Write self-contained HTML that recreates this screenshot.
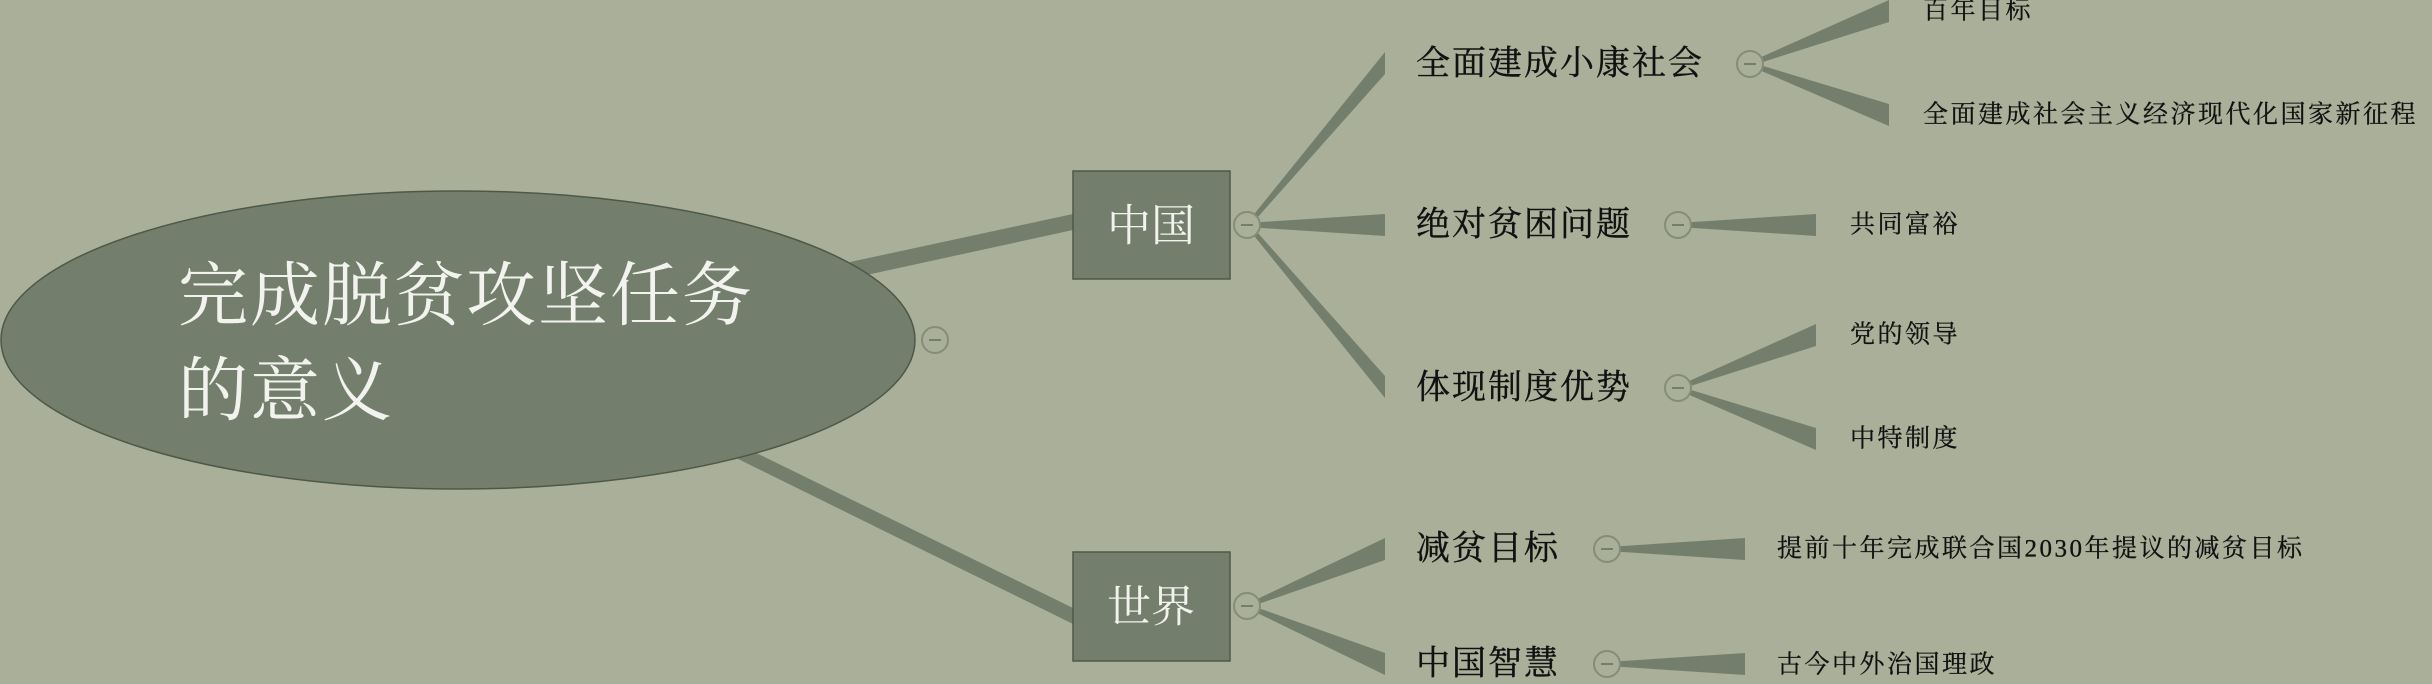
<!DOCTYPE html>
<html><head><meta charset="utf-8"><style>
html,body{margin:0;padding:0;background:#a9af99;}
svg{display:block}
text{font-family:"Liberation Serif","Noto Serif CJK SC",serif;}
</style></head><body>
<svg width="2432" height="684" viewBox="0 0 2432 684" xmlns="http://www.w3.org/2000/svg">
<rect width="2432" height="684" fill="#a9af99"/>
<g fill="#737f6c">
<polygon points="850,262 1073,214 1073,230 862,276"/>
<polygon points="730,455 740,445 1073,608 1073,624"/>
<polygon points="1247,223 1385,52 1385,74 1249,227"/>
<polygon points="1247,223 1385,214 1385,236 1247,227"/>
<polygon points="1249,223 1385,376 1385,398 1247,227"/>
<polygon points="1247,604 1385,538 1385,560 1247,608"/>
<polygon points="1247,604 1385,653 1385,675 1247,608"/>
<polygon points="1750,62 1889,0 1889,22 1750,66"/>
<polygon points="1750,62 1889,104 1889,126 1750,66"/>
<polygon points="1678,223 1816,214 1816,236 1678,227"/>
<polygon points="1678,386 1816,324 1816,346 1678,390"/>
<polygon points="1678,386 1816,428 1816,450 1678,390"/>
<polygon points="1607,547 1745,538 1745,560 1607,551"/>
<polygon points="1607,662 1745,653 1745,675 1607,666"/>
</g>
<ellipse cx="458" cy="340" rx="457" ry="149" fill="#737f6c" stroke="#4e5849" stroke-width="1.5"/>
<text x="178" y="297" font-size="70" fill="#f2f2ee" dominant-baseline="central" letter-spacing="2">完成脱贫攻坚任务</text>
<text x="178" y="392" font-size="70" fill="#f2f2ee" dominant-baseline="central" letter-spacing="2">的意义</text>
<rect x="1073" y="171" width="157" height="108" fill="#737f6c" stroke="#4e5849" stroke-width="1.5"/>
<text x="1151" y="226" font-size="44" fill="#f2f2ee" text-anchor="middle" dominant-baseline="central">中国</text>
<rect x="1073" y="552" width="157" height="109" fill="#737f6c" stroke="#4e5849" stroke-width="1.5"/>
<text x="1151" y="607" font-size="44" fill="#f2f2ee" text-anchor="middle" dominant-baseline="central">世界</text>
<g fill="#a9af99" stroke="#858d78" stroke-width="2">
<circle cx="935" cy="340" r="13"/>
<circle cx="1247" cy="225" r="13"/>
<circle cx="1247" cy="606" r="13"/>
<circle cx="1750" cy="64" r="13"/>
<circle cx="1678" cy="225" r="13"/>
<circle cx="1678" cy="388" r="13"/>
<circle cx="1607" cy="549" r="13"/>
<circle cx="1607" cy="664" r="13"/>
</g>
<g stroke="#737f6c" stroke-width="2">
<line x1="929" y1="340" x2="941" y2="340"/>
<line x1="1241" y1="225" x2="1253" y2="225"/>
<line x1="1241" y1="606" x2="1253" y2="606"/>
<line x1="1744" y1="64" x2="1756" y2="64"/>
<line x1="1672" y1="225" x2="1684" y2="225"/>
<line x1="1672" y1="388" x2="1684" y2="388"/>
<line x1="1601" y1="549" x2="1613" y2="549"/>
<line x1="1601" y1="664" x2="1613" y2="664"/>
</g>
<g font-size="34" fill="#111" dominant-baseline="central" letter-spacing="2" stroke="#111" stroke-width="0.4">
<text x="1416" y="64">全面建成小康社会</text>
<text x="1416" y="225">绝对贫困问题</text>
<text x="1416" y="388">体现制度优势</text>
<text x="1416" y="549">减贫目标</text>
<text x="1416" y="664">中国智慧</text>
</g>
<g font-size="25" fill="#111" dominant-baseline="central" letter-spacing="2.5" stroke="#111" stroke-width="0.3">
<text x="1923" y="11">百年目标</text>
<text x="1923" y="115">全面建成社会主义经济现代化国家新征程</text>
<text x="1850" y="225">共同富裕</text>
<text x="1850" y="335">党的领导</text>
<text x="1850" y="439">中特制度</text>
<text x="1777" y="549">提前十年完成联合国2030年提议的减贫目标</text>
<text x="1777" y="665">古今中外治国理政</text>
</g>
</svg>
</body></html>
